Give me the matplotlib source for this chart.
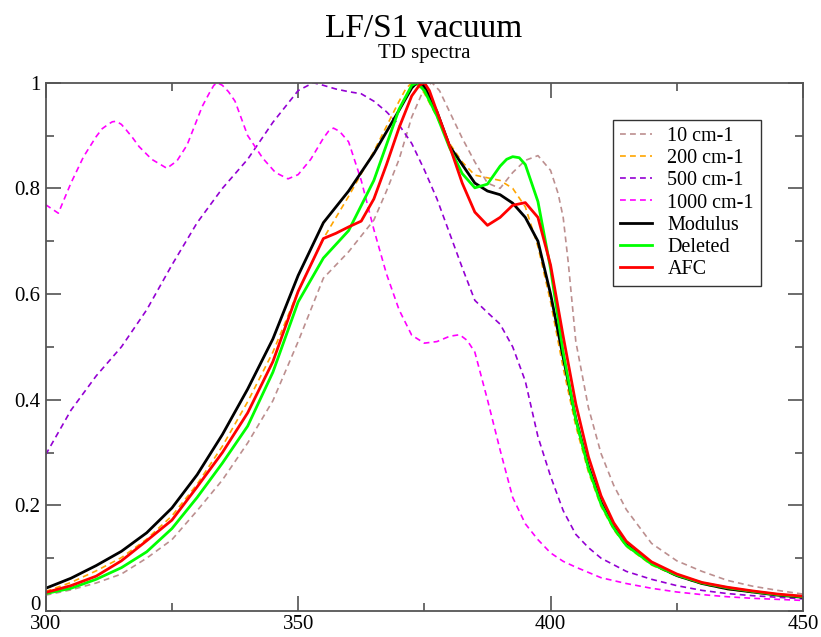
import matplotlib
matplotlib.use('Agg')
import matplotlib.pyplot as plt
from matplotlib.ticker import MultipleLocator, FuncFormatter

plt.rcParams['font.family'] = ['Liberation Serif', 'DejaVu Serif']

# wavelength grids (nm) and normalised intensities
wl_10 = [300, 305, 310, 315, 320, 325, 330, 335, 340, 345, 350, 355, 360, 365, 367.5, 370, 372.5,
         375, 376.5, 378, 380, 382.5, 385, 387.5, 390, 392.5, 395, 397.5, 400, 401.5, 402.5, 403.5,
         405, 407.5, 410, 412.5, 415, 420, 425, 430, 435, 440, 445, 450]
y_10 = [.030, .040, .053, .070, .100, .135, .190, .248, .318, .398, .510, .630, .680, .740, .795, .855, .935,
        .990, 1.0, .985, .945, .895, .850, .810, .800, .830, .853, .862, .834, .790, .745, .660,
        .510, .385, .298, .238, .192, .128, .095, .075, .058, .047, .039, .032]

wl_200 = [300, 305, 310, 315, 320, 325, 330, 335, 340, 345, 350, 355, 360, 365, 370, 371.3, 372.5, 373.8,
          375, 377.5, 380, 382.5, 385, 387.5, 390, 392.5, 395, 397.5, 400, 402.5, 405, 407.5, 410,
          412.5, 415, 420, 425, 430, 435, 440, 445, 450]
y_200 = [.037, .054, .076, .101, .136, .180, .240, .312, .396, .490, .605, .705, .785, .870, .965, .988, 1.0, .995,
         .980, .935, .885, .850, .825, .820, .815, .800, .765, .690, .585, .460, .350, .263, .198,
         .154, .122, .087, .066, .051, .041, .035, .030, .026]

wl_500 = [300, 305, 310, 315, 320, 325, 330, 335, 340, 345, 350, 353, 355, 357.5, 360, 362.5, 365,
          367.5, 370, 372.5, 375, 377.5, 380, 382.5, 385, 387.5, 390, 392.5, 395, 397.5, 400, 402.5,
          405, 407.5, 410, 415, 420, 425, 430, 435, 440, 445, 450]
y_500 = [.296, .380, .445, .500, .570, .655, .735, .800, .855, .925, .985, 1.0, .995, .988, .983, .979, .965,
         .945, .920, .885, .835, .780, .715, .650, .588, .565, .543, .500, .435, .330, .255, .190,
         .145, .120, .100, .075, .060, .048, .039, .033, .029, .026, .023]

wl_1000 = [300, 302.5, 305, 307.5, 310, 311.2, 312.5, 313.2, 314, 315, 316, 317.2, 318.5, 321, 324,
           326, 328, 331, 332.5, 333.3, 334, 335, 336.2, 337.5, 340, 343, 345.5, 348, 350, 352.5,
           355, 356, 357, 358.2, 360, 362.5, 365, 367.5, 370, 372.5, 375, 377.5, 380, 382, 383.5,
           385, 387.5, 390, 392.5, 395, 397.5, 400, 402.5, 405, 410, 415, 420, 425, 430, 435, 440,
           445, 450]
y_1000 = [.769, .753, .810, .860, .898, .913, .922, .926, .927, .921, .910, .896, .879, .855, .838,
          .852, .882, .955, .982, .995, 1.0, .995, .983, .965, .900, .857, .830, .818, .826, .855,
          .895, .908, .914, .908, .888, .815, .722, .638, .570, .522, .507, .510, .520, .523, .512,
          .490, .400, .305, .215, .165, .135, .110, .094, .083, .063, .052, .043, .036, .031, .027, .024,
          .022, .020]

wl_mod = [300, 305, 310, 315, 320, 325, 330, 335, 340, 345, 350, 355, 360, 365, 370, 372.5, 373.2, 374,
          375, 377.5, 380, 382.5, 385, 387.5, 390, 392.5, 395, 397.5, 400, 402.5, 405, 407.5, 410,
          412.5, 415, 420, 425, 430, 435, 440, 445, 450]
y_mod = [.043, .062, .086, .113, .148, .195, .258, .334, .420, .515, .635, .735, .795, .866, .948, .990, .997, 1.0,
         .993, .945, .880, .845, .810, .795, .788, .772, .745, .700, .600, .480, .364, .274, .206,
         .159, .126, .090, .067, .052, .042, .036, .030, .026]

wl_del = [300, 305, 310, 315, 320, 325, 330, 335, 340, 345, 350, 355, 360, 365, 370, 372.5, 373.5, 375,
          377.5, 380, 382.5, 385, 387.5, 390, 391.3, 392.5, 393.8, 395, 397.5, 400, 402.5, 405, 407.5,
          410, 412.5, 415, 420, 425, 430, 435, 440, 445, 450]
y_del = [.033, .043, .060, .082, .112, .156, .215, .280, .350, .452, .585, .668, .720, .815, .950, .995, 1.0, .985,
         .937, .877, .828, .801, .808, .842, .855, .860, .858, .845, .775, .648, .490, .362, .270,
         .202, .157, .124, .089, .068, .053, .044, .037, .031, .027]

wl_afc = [300, 305, 310, 315, 320, 325, 330, 335, 340, 345, 350, 355, 357.5, 360, 362.5, 365, 367.5,
          370, 372.5, 374, 375, 376, 377.5, 380, 382.5, 385, 387.5, 390, 392.5, 395, 397.5, 400, 402.5,
          405, 407.5, 410, 412.5, 415, 420, 425, 430, 435, 440, 445, 450]
y_afc = [.035, .048, .066, .095, .133, .172, .235, .300, .375, .472, .605, .705, .715, .727, .738, .780, .845,
         .915, .975, .995, 1.0, .985, .945, .880, .810, .755, .730, .745, .768, .773, .745, .655, .520,
         .392, .292, .218, .167, .132, .093, .070, .054, .045, .038, .032, .028]

series = [
    (wl_10, y_10, '10 cm-1', '#bc8f8f', 'dash'),
    (wl_200, y_200, '200 cm-1', '#ffa500', 'dash'),
    (wl_500, y_500, '500 cm-1', '#9400d3', 'dash'),
    (wl_1000, y_1000, '1000 cm-1', '#ff00ff', 'dash'),
    (wl_mod, y_mod, 'Modulus', '#000000', 'solid'),
    (wl_del, y_del, 'Deleted', '#00ff00', 'solid'),
    (wl_afc, y_afc, 'AFC', '#ff0000', 'solid'),
]

fig = plt.figure(figsize=(8.21, 6.37), dpi=100)
ax = fig.add_axes([45.7 / 821, 26 / 637, (803 - 45.7) / 821, (611 - 82.7) / 637])

for x, y, label, color, style in series:
    if style == 'dash':
        ax.plot(x, y, color=color, lw=1.2, linestyle=(0, (3.5, 2.5)), label=label)
    else:
        ax.plot(x, y, color=color, lw=2.0, label=label, solid_joinstyle='round')

ax.set_xlim(300, 450)
ax.set_ylim(0, 1)
ax.xaxis.set_major_locator(MultipleLocator(50))
ax.xaxis.set_minor_locator(MultipleLocator(25))
ax.yaxis.set_major_locator(MultipleLocator(0.2))
ax.yaxis.set_minor_locator(MultipleLocator(0.1))
# the "0" is drawn by hand a bit higher so it clears the "300" below it
ax.yaxis.set_major_formatter(FuncFormatter(lambda v, p: '' if abs(v) < 1e-9 else '%g' % round(v, 2)))
ax.tick_params(which='both', direction='in', top=True, right=True, color='#444444',
               labelsize=15, width=1.1)
ax.tick_params(which='major', length=11)
ax.tick_params(which='minor', length=5.5)
ax.tick_params(axis='x', pad=3)
ax.tick_params(axis='y', pad=4)
for sp in ax.spines.values():
    sp.set_color('#555555')
    sp.set_linewidth(1.3)

ax.annotate('0', xy=(0, 0), xycoords=('axes fraction', 'data'), xytext=(-4, 4),
            textcoords='offset points', ha='right', va='center', fontsize=15,
            annotation_clip=False)

fig.text(424 / 821, 1 - 37 / 637, 'LF/S1 vacuum', ha='center', va='baseline', fontsize=24)
fig.text(424 / 821, 1 - 58 / 637, 'TD spectra', ha='center', va='baseline', fontsize=15)

leg = ax.legend(loc='upper left', bbox_to_anchor=(613 / 821, 1 - 120 / 637),
                bbox_transform=fig.transFigure, borderaxespad=0, fontsize=14.5,
                handlelength=1.6, handletextpad=0.75, labelspacing=0.15, borderpad=0.35,
                fancybox=False, framealpha=1, edgecolor='#333333')
leg.get_frame().set_linewidth(1.0)

fig.savefig('out.png', dpi=100)
